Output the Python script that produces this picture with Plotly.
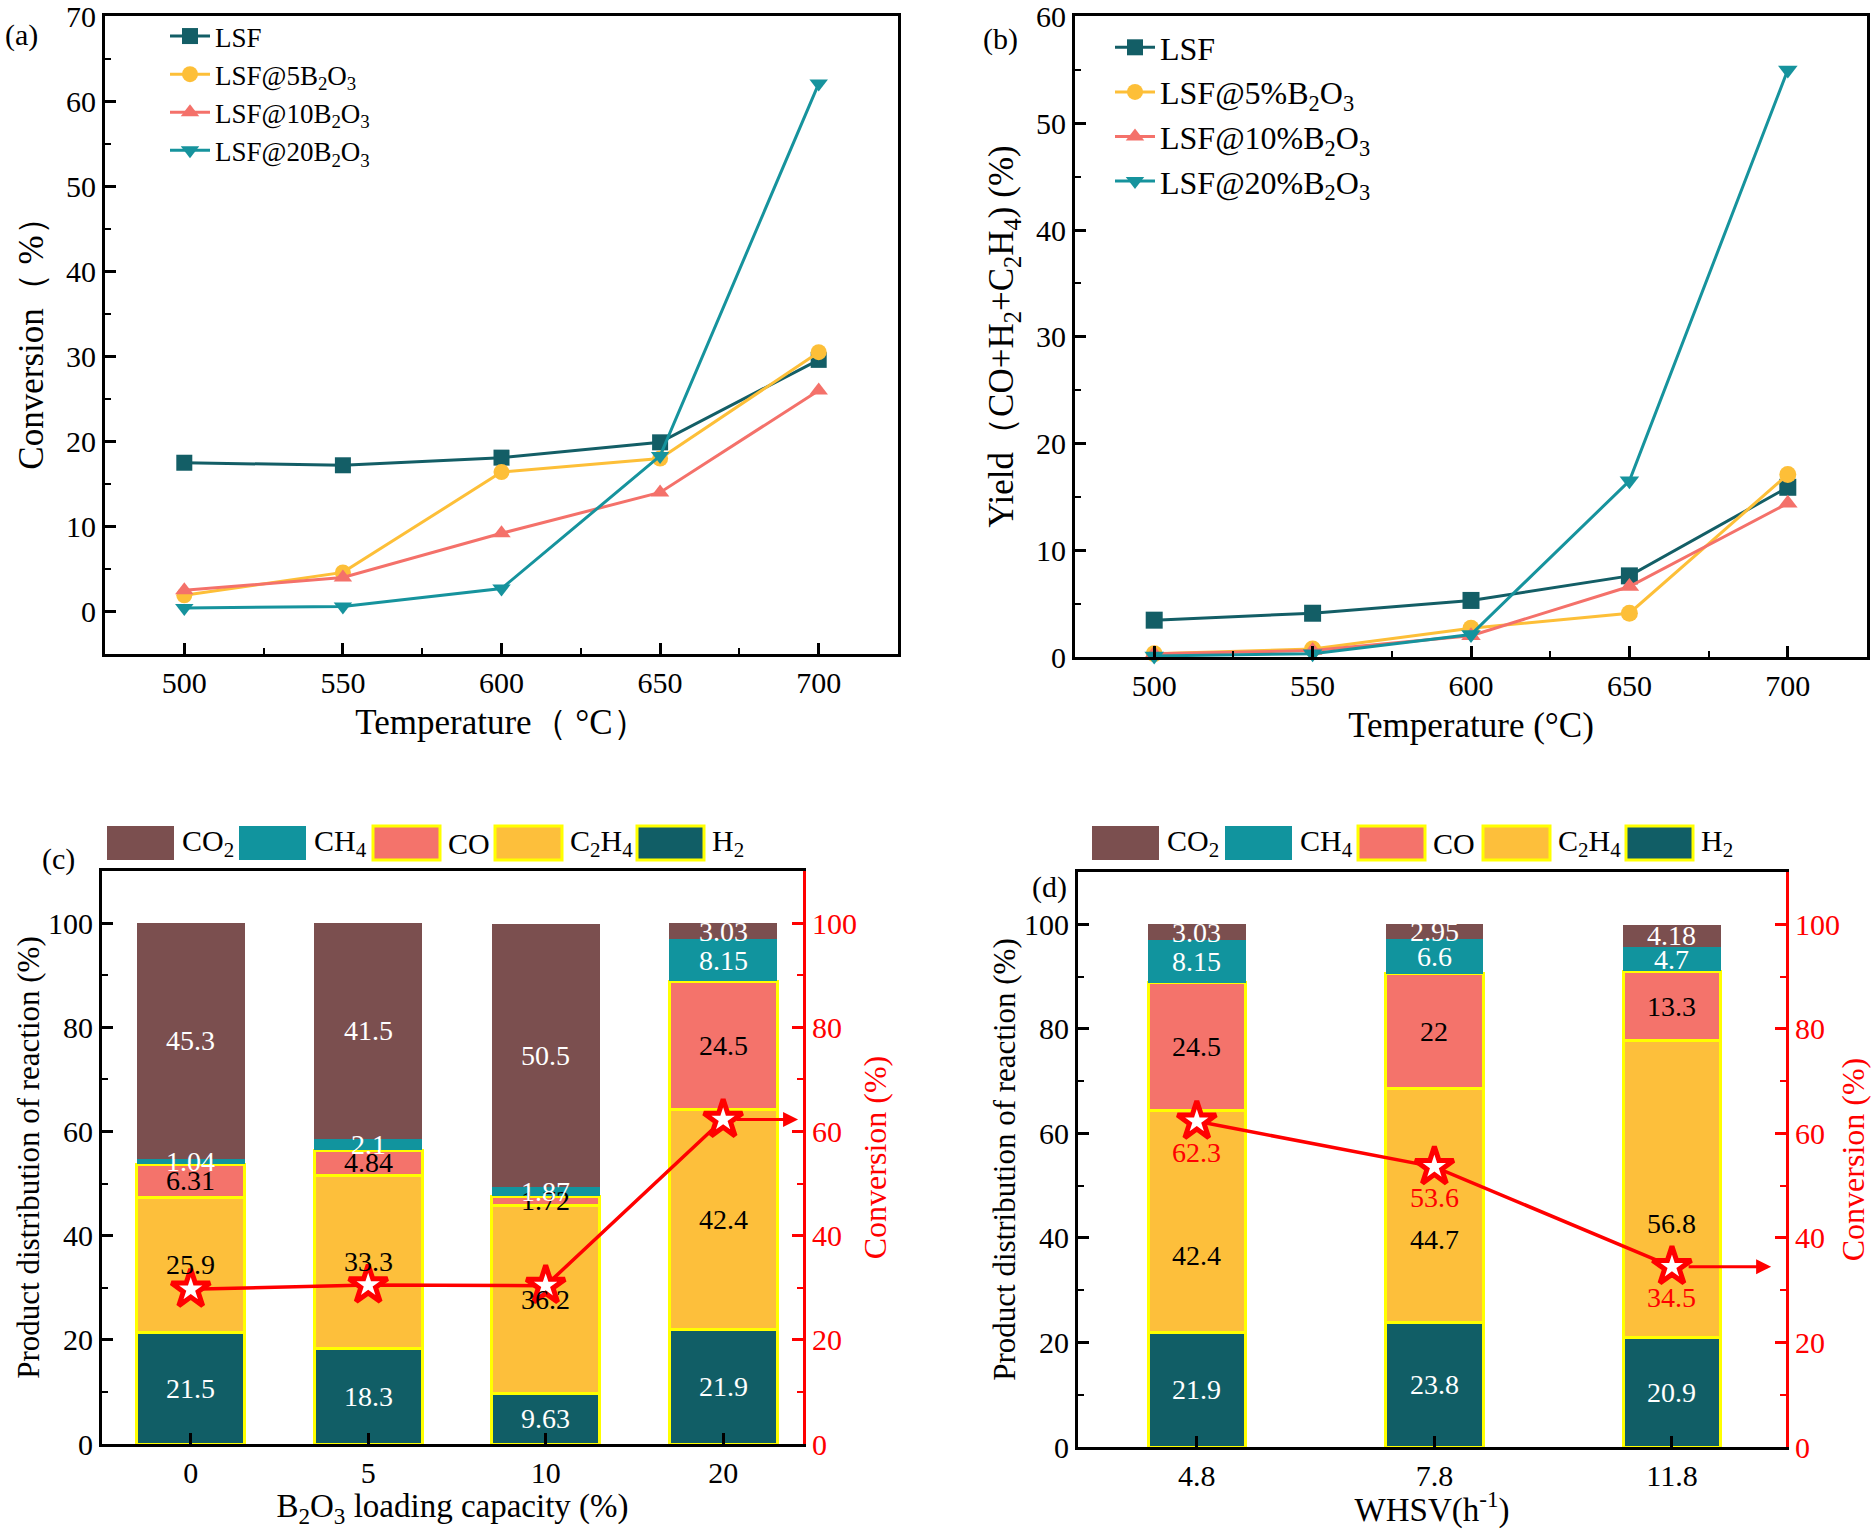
import plotly.graph_objects as go

# ---------------- data ----------------
temps = [500, 550, 600, 650, 700]

names_a = ["LSF", "LSF@5B<sub>2</sub>O<sub>3</sub>", "LSF@10B<sub>2</sub>O<sub>3</sub>", "LSF@20B<sub>2</sub>O<sub>3</sub>"]
names_b = ["LSF", "LSF@5%B<sub>2</sub>O<sub>3</sub>", "LSF@10%B<sub>2</sub>O<sub>3</sub>", "LSF@20%B<sub>2</sub>O<sub>3</sub>"]

conv_lsf = [17.5, 17.2, 18.1, 19.9, 29.6]
conv_5 = [1.9, 4.6, 16.4, 18.0, 30.5]
conv_10 = [2.5, 4.0, 9.2, 14.0, 26.0]
conv_20 = [0.4, 0.6, 2.7, 18.3, 62.1]

yield_lsf = [3.45, 4.1, 5.3, 7.6, 15.9]
yield_5 = [0.3, 0.75, 2.7, 4.1, 17.1]
yield_10 = [0.3, 0.6, 2.0, 6.6, 14.4]
yield_20 = [0.1, 0.3, 2.1, 16.5, 55.0]

products = ["H<sub>2</sub>", "C<sub>2</sub>H<sub>4</sub>", "CO", "CH<sub>4</sub>", "CO<sub>2</sub>"]

loading_cats = ["0", "5", "10", "20"]
loading_h2 = [21.5, 18.3, 9.63, 21.9]
loading_c2h4 = [25.9, 33.3, 36.2, 42.4]
loading_co = [6.31, 4.84, 1.72, 24.5]
loading_ch4 = [1.04, 2.1, 1.87, 8.15]
loading_co2 = [45.3, 41.5, 50.5, 3.03]
loading_conv = [29.7, 30.5, 30.4, 62.3]

whsv_cats = ["4.8", "7.8", "11.8"]
whsv_h2 = [21.9, 23.8, 20.9]
whsv_c2h4 = [42.4, 44.7, 56.8]
whsv_co = [24.5, 22, 13.3]
whsv_ch4 = [8.15, 6.6, 4.7]
whsv_co2 = [3.03, 2.95, 4.18]
whsv_conv = [62.3, 53.6, 34.5]

# ---------------- style ----------------
FONT = "Liberation Serif"
W, H = 1871, 1529
def px(x): return x / W
def py(y): return 1 - y / H

line_colors = ["#135E66", "#FDBF38", "#F4716A", "#16939D"]
line_symbols = ["square", "circle", "triangle-up", "triangle-down"]
prod_colors = ["#115E66", "#FDBF3B", "#F4736B", "#11949E", "#7B4F4F"]
prod_edge = ["#FFFF00", "#FFFF00", "#FFFF00", None, None]
prod_textcol = ["white", "black", "black", "white", "white"]

fig = go.Figure()

# panel a
for name, ys, c, s in zip(names_a, [conv_lsf, conv_5, conv_10, conv_20], line_colors, line_symbols):
    fig.add_trace(go.Scatter(x=temps, y=ys, name=name, mode="lines+markers",
                             line=dict(color=c, width=3), marker=dict(symbol=s, size=16, color=c),
                             xaxis="x", yaxis="y", legend="legend", cliponaxis=False))
# panel b
for name, ys, c, s in zip(names_b, [yield_lsf, yield_5, yield_10, yield_20], line_colors, line_symbols):
    fig.add_trace(go.Scatter(x=temps, y=ys, name=name, mode="lines+markers",
                             line=dict(color=c, width=3), marker=dict(symbol=s, size=17, color=c),
                             xaxis="x2", yaxis="y2", legend="legend2", cliponaxis=False))

annotations = []

def add_stack(cats, series, xa, ya, width, c2h4_shift):
    for k, (vals, col, edge, name) in enumerate(zip(series, prod_colors, prod_edge, products)):
        fig.add_trace(go.Bar(x=cats, y=vals, name=name, width=width, xaxis=xa, yaxis=ya,
                             marker=dict(color=col, line=dict(color=edge if edge else col, width=3 if edge else 0)),
                             showlegend=False))
    for i, cat in enumerate(cats):
        base = 0
        for k, vals in enumerate(series):
            v = vals[i]
            # category axes: annotation x is the category index
            annotations.append(dict(x=i, y=base + v / 2, xref=xa, yref=ya, text=f"{v:g}", showarrow=False,
                                    yshift=c2h4_shift if k == 1 else 0,
                                    font=dict(family=FONT, size=28, color=prod_textcol[k])))
            base += v

add_stack(loading_cats, [loading_h2, loading_c2h4, loading_co, loading_ch4, loading_co2], "x3", "y3", 0.61, 0)
add_stack(whsv_cats, [whsv_h2, whsv_c2h4, whsv_co, whsv_ch4, whsv_co2], "x4", "y5", 0.41, -34)

star = dict(symbol="star", size=29, color="white", line=dict(color="red", width=5))
fig.add_trace(go.Scatter(x=loading_cats, y=loading_conv, mode="lines+markers", xaxis="x3", yaxis="y4",
                         line=dict(color="red", width=3.5), marker=star, showlegend=False, cliponaxis=False))
fig.add_trace(go.Scatter(x=whsv_cats, y=whsv_conv, mode="lines+markers", xaxis="x4", yaxis="y6",
                         line=dict(color="red", width=3.5), marker=star, showlegend=False, cliponaxis=False))
for i, v in enumerate(whsv_conv):
    annotations.append(dict(x=i, y=v, xref="x4", yref="y6", text=f"{v:g}", showarrow=False, yshift=-31,
                            font=dict(family=FONT, size=28, color="red")))

# arrows pointing to the conversion axis
annotations.append(dict(x=0.993, xref="x3 domain", y=loading_conv[-1], yref="y4", ax=-63, ay=0, text="",
                        showarrow=True, arrowhead=2, arrowsize=1, arrowwidth=3, arrowcolor="red"))
annotations.append(dict(x=0.979, xref="x4 domain", y=whsv_conv[-1], yref="y6", ax=-84, ay=0, text="",
                        showarrow=True, arrowhead=2, arrowsize=1, arrowwidth=3, arrowcolor="red"))

# panel labels
for lab, x, y in [("(a)", 3, 16), ("(b)", 981, 20), ("(c)", 40, 840), ("(d)", 1030, 868)]:
    annotations.append(dict(x=px(x), y=py(y), xref="paper", yref="paper", xanchor="left", yanchor="top",
                            text=lab, showarrow=False, font=dict(family=FONT, size=30, color="black")))

# custom legends for bar panels (order CO2, CH4, CO, C2H4, H2)
shapes = []
leg_order = [4, 3, 2, 1, 0]
leg_c_x = [107, 239, 373, 495, 637]
leg_d_x = [1092, 1225, 1358, 1483, 1626]
for xs in (leg_c_x, leg_d_x):
    for x0, k in zip(xs, leg_order):
        edge = prod_edge[k]
        shapes.append(dict(type="rect", xref="paper", yref="paper", x0=px(x0), x1=px(x0 + 67),
                           y0=py(860), y1=py(826), fillcolor=prod_colors[k],
                           line=dict(color=edge if edge else prod_colors[k], width=3 if edge else 0)))
        annotations.append(dict(x=px(x0 + 73), y=py(843), xref="paper", yref="paper", xanchor="left",
                                yanchor="middle", text=products[k], showarrow=False,
                                font=dict(family=FONT, size=30, color="black")))

axis_common = dict(showline=True, linecolor="black", linewidth=3, ticks="inside", ticklen=11, tickwidth=2.5,
                   tickcolor="black", showgrid=False, zeroline=False, automargin=False,
                   ticklabeloverflow="allow",
                   tickfont=dict(family=FONT, size=30, color="black"))
minor_common = dict(ticks="inside", ticklen=6, tickwidth=2, tickcolor="black")

fig.update_layout(
    width=W, height=H, margin=dict(l=0, r=0, t=0, b=0, autoexpand=False), autosize=False,
    paper_bgcolor="white", plot_bgcolor="white", barmode="stack",
    font=dict(family=FONT, size=28, color="black"),
    annotations=annotations, shapes=shapes,
    xaxis=dict(axis_common, domain=[px(105), px(898)], anchor="y", range=[475, 725], tick0=500, dtick=50,
               minor=dict(minor_common, dtick=25), mirror=True,
               title=dict(text="Temperature（ °C）", font=dict(family=FONT, size=35), standoff=12)),
    yaxis=dict(axis_common, domain=[py(654), py(16)], anchor="x", range=[-5, 70.05], tick0=0, dtick=10,
               minor=dict(minor_common, dtick=5), mirror=True,
               title=dict(text="Conversion（ %）", font=dict(family=FONT, size=35), standoff=12)),
    xaxis2=dict(axis_common, domain=[px(1075), px(1867)], anchor="y2", range=[475, 725], tick0=500, dtick=50,
                minor=dict(minor_common, dtick=25), mirror=True,
                title=dict(text="Temperature (°C)", font=dict(family=FONT, size=35), standoff=12)),
    yaxis2=dict(axis_common, domain=[py(657), py(16)], anchor="x2", range=[0, 60.05], tick0=0, dtick=10,
                minor=dict(minor_common, dtick=5), mirror=True,
                title=dict(text="Yield（CO+H<sub>2</sub>+C<sub>2</sub>H<sub>4</sub>) (%)",
                           font=dict(family=FONT, size=35), standoff=12)),
    xaxis3=dict(axis_common, domain=[px(102), px(803)], anchor="y3", type="category",
                categoryorder="array", categoryarray=loading_cats, range=[-0.5, 3.45], mirror=True,
                title=dict(text="B<sub>2</sub>O<sub>3</sub> loading capacity (%)", font=dict(family=FONT, size=33),
                           standoff=6)),
    yaxis3=dict(axis_common, domain=[py(1444), py(871)], anchor="x3", range=[0, 110], tick0=0, dtick=20,
                minor=dict(minor_common, dtick=10),
                title=dict(text="Product distribution of reaction (%)", font=dict(family=FONT, size=31),
                           standoff=0)),
    yaxis4=dict(axis_common, anchor="x3", overlaying="y3", side="right", range=[0, 110], tick0=0, dtick=20,
                linecolor="red", tickcolor="red", tickfont=dict(family=FONT, size=30, color="red"),
                minor=dict(minor_common, dtick=10, tickcolor="red"),
                title=dict(text="Conversion (%)", font=dict(family=FONT, size=32, color="red"), standoff=8)),
    xaxis4=dict(axis_common, domain=[px(1078), px(1786)], anchor="y5", type="category",
                categoryorder="array", categoryarray=whsv_cats, range=[-0.5, 2.48], mirror=True,
                title=dict(text="WHSV(h<sup>-1</sup>)", font=dict(family=FONT, size=33), standoff=6)),
    yaxis5=dict(axis_common, domain=[py(1447), py(872)], anchor="x4", range=[0, 110], tick0=0, dtick=20,
                minor=dict(minor_common, dtick=10),
                title=dict(text="Product distribution of reaction (%)", font=dict(family=FONT, size=31),
                           standoff=0)),
    yaxis6=dict(axis_common, anchor="x4", overlaying="y5", side="right", range=[0, 110], tick0=0, dtick=20,
                linecolor="red", tickcolor="red", tickfont=dict(family=FONT, size=30, color="red"),
                minor=dict(minor_common, dtick=10, tickcolor="red"),
                title=dict(text="Conversion (%)", font=dict(family=FONT, size=32, color="red"), standoff=8)),
    legend=dict(x=px(165), y=py(12), xanchor="left", yanchor="top", bgcolor="rgba(0,0,0,0)",
                font=dict(family=FONT, size=27), tracegroupgap=0, itemwidth=40, traceorder="normal"),
    legend2=dict(x=px(1110), y=py(20), xanchor="left", yanchor="top", bgcolor="rgba(0,0,0,0)",
                 font=dict(family=FONT, size=32), tracegroupgap=0, itemwidth=40, traceorder="normal"),
)

fig.write_html("out.html", config={"displayModeBar": False},
               post_script="document.body.style.margin='0';document.body.style.overflow='hidden';")
